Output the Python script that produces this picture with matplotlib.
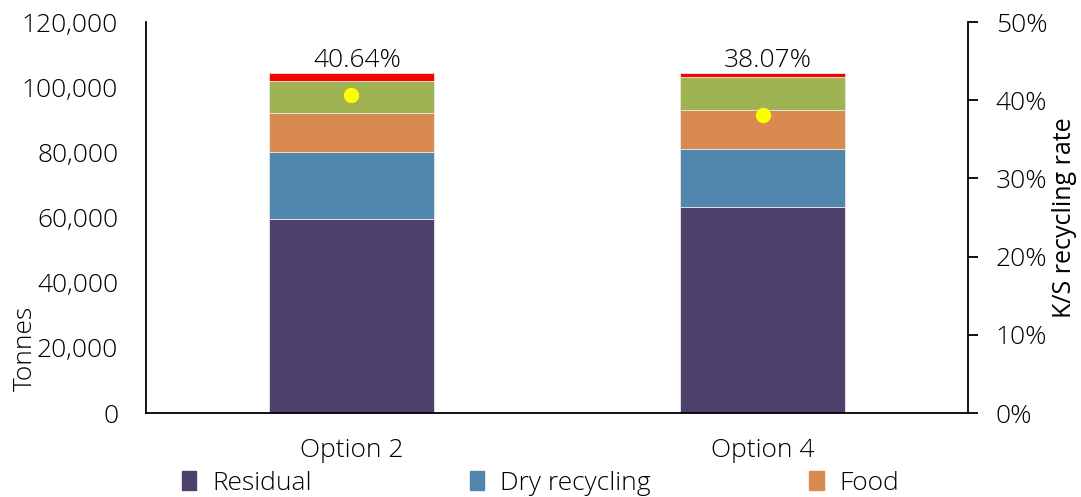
import matplotlib.pyplot as plt
from matplotlib.patches import Patch
from matplotlib.ticker import FuncFormatter
import numpy as np

plt.rcParams['font.family'] = ['Open Sans', 'DejaVu Sans']
plt.rcParams['font.weight'] = 'light'

options = ['Option 2', 'Option 4']
residual = [59500, 63100]
dry_recycling = [20600, 18000]
food = [11900, 11800]
garden = [10000, 10100]
other = [2300, 1350]
recycling_rate = [0.4064, 0.3807]

series = [('Residual', residual, '#4d416b'),
          ('Dry recycling', dry_recycling, '#5186ad'),
          ('Food', food, '#d98a50'),
          ('Garden', garden, '#9fb352'),
          ('Other', other, '#ff0000')]

fig = plt.figure(figsize=(10.81, 4.97), dpi=100)
ax = fig.add_axes([0.135, 0.169, 0.7605, 0.7867])
x = np.arange(len(options))

bottom = np.zeros(len(options))
for name, vals, col in series:
    ax.bar(x, vals, 0.4, bottom=bottom, color=col, label=name,
           edgecolor='#e8e8e8', linewidth=0.6)
    bottom += np.array(vals)

ax.set_xlim(-0.5, 1.5)
ax.set_ylim(0, 120000)
ax.set_yticks(np.arange(0, 120001, 20000))
ax.yaxis.set_major_formatter(FuncFormatter(lambda v, p: f'{int(v):,}'))
ax.set_xticks(x)
ax.set_xticklabels(options)
ax.tick_params(axis='y', length=0, pad=20, labelsize=19)
ax.tick_params(axis='x', length=0, pad=18, labelsize=19)
for s in ['top', 'right']:
    ax.spines[s].set_visible(False)
ax.spines['left'].set_linewidth(1.3)
ax.spines['bottom'].set_linewidth(1.3)

ax2 = ax.twinx()
ax2.plot(x, recycling_rate, 'o', color='#ffff00', markersize=10, zorder=5)
ax2.set_ylim(0, 0.5)
ax2.set_yticks(np.arange(0, 0.51, 0.1))
ax2.yaxis.set_major_formatter(FuncFormatter(lambda v, p: f'{v*100:.0f}%'))
ax2.tick_params(axis='y', length=7, width=1.3, pad=13, labelsize=19)
for s in ['top', 'left', 'bottom']:
    ax2.spines[s].set_visible(False)
ax2.spines['right'].set_linewidth(1.3)
ax2.set_ylabel('K/S recycling rate', fontsize=18, labelpad=3)

for xi, tot, r in zip(x, bottom, recycling_rate):
    ax.annotate(f'{r*100:.2f}%', (xi, tot), xytext=(4, 0), textcoords='offset points',
                ha='center', va='bottom', fontsize=19)

fig.text(25 / 1081, 1 - 348 / 497, 'Tonnes', rotation=90, ha='center', va='center', fontsize=19)

handles = [Patch(color=c) for _, _, c in series[:3]]
labels = [n for n, _, _ in series[:3]]
fig.legend(handles, labels, ncol=3, loc='center left', bbox_to_anchor=(0.168, 0.028),
           frameon=False, fontsize=19, handlelength=0.55, handleheight=0.7,
           handletextpad=0.6, columnspacing=6.0, borderaxespad=0, borderpad=0)

fig.savefig('out.png', dpi=100)
